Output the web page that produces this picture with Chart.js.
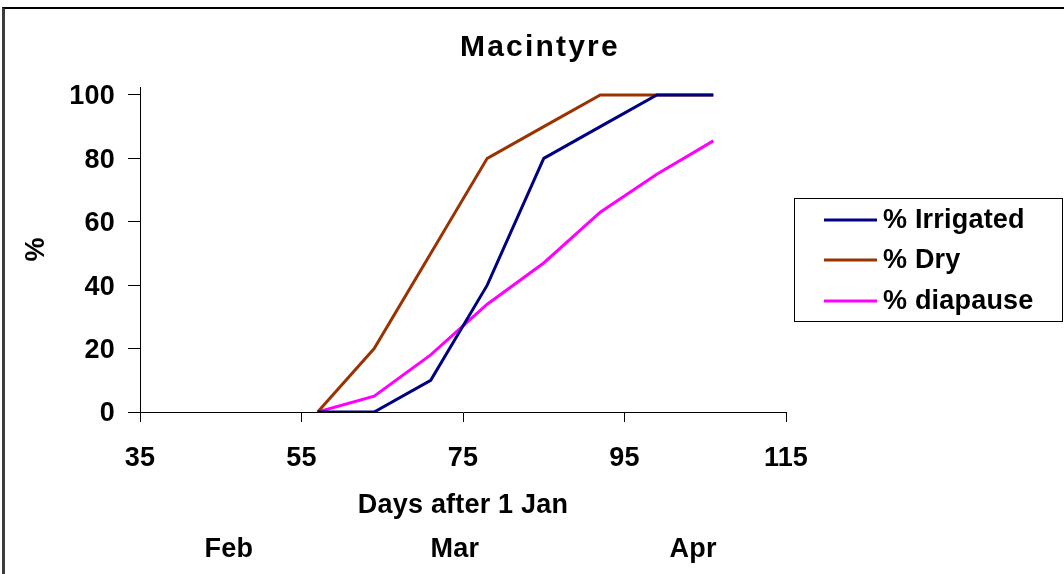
<!DOCTYPE html>
<html>
<head>
<meta charset="utf-8">
<script src="https://cdn.jsdelivr.net/npm/chart.js@4/dist/chart.umd.min.js"></script>
<style>
  html, body { margin: 0; padding: 0; background: #fff; overflow: hidden; }
  #wrap { position: relative; width: 1064px; height: 574px; }
  #frame { position: absolute; left: 2px; top: 7px; width: 2000px; height: 2000px;
           border-top: 2px solid #000; border-left: 3px solid #3c3c3c; pointer-events: none; }
  canvas { position: absolute; left: 0; top: 0; }
</style>
</head>
<body>
<div id="wrap">
  <canvas id="c" width="1064" height="574"></canvas>
  <div id="frame"></div>
</div>
<script>
const chartTitle = 'Macintyre';
const days = [57, 64, 71, 78, 85, 92, 99, 106];
const irrigated = [0, 0, 10, 40, 80, 90, 100, 100];
const dry = [0, 20, 50, 80, 90, 100, 100, 100];
const diapause = [0, 5, 18, 34, 47, 63, 75, 85.5];
const seriesNames = ['% Irrigated', '% Dry', '% diapause'];
const seriesColors = ['#000080', '#993300', '#FF00FF'];
const xTicks = [35, 55, 75, 95, 115];
const yTicks = [0, 20, 40, 60, 80, 100];
const monthLabels = ['Feb', 'Mar', 'Apr'];
const monthDays = [46, 74, 103.5];
const xTitle = 'Days after 1 Jan';
const yTitle = '%';

const FONT = '"Liberation Sans", Arial, sans-serif';
const bold27 = { family: FONT, size: 27, weight: 'bold' };

function pts(vals) { return days.map((d, i) => ({ x: d, y: vals[i] })); }

const titleAndLegend = {
  id: 'titleAndLegend',
  beforeDraw(chart) {
    chart.ctx.letterSpacing = '0.2px';
  },
  afterDraw(chart) {
    const ctx = chart.ctx;
    ctx.save();
    ctx.fillStyle = '#000';
    ctx.textBaseline = 'middle';
    // title
    ctx.font = 'bold 30px ' + FONT;
    ctx.letterSpacing = '2.2px';
    ctx.textAlign = 'left';
    ctx.fillText(chartTitle, 460, 48);
    // legend box
    ctx.font = 'bold 27px ' + FONT;
    ctx.letterSpacing = '0.2px';
    ctx.strokeStyle = '#000';
    ctx.lineWidth = 1;
    ctx.strokeRect(794.5, 198.5, 268, 123);
    const rows = [220, 260, 301];
    chart.data.datasets.forEach((ds, i) => {
      ctx.strokeStyle = ds.borderColor;
      ctx.lineWidth = 3;
      ctx.beginPath();
      ctx.moveTo(824, rows[i]);
      ctx.lineTo(877, rows[i]);
      ctx.stroke();
      ctx.fillStyle = '#000';
      ctx.fillText(ds.label, 883, rows[i] + 1);
    });
    ctx.restore();
  }
};

new Chart(document.getElementById('c'), {
  type: 'line',
  data: {
    datasets: [
      { label: seriesNames[0], data: pts(irrigated), borderColor: seriesColors[0] },
      { label: seriesNames[1], data: pts(dry), borderColor: seriesColors[1] },
      { label: seriesNames[2], data: pts(diapause), borderColor: seriesColors[2] }
    ]
  },
  options: {
    responsive: false,
    animation: false,
    events: [],
    datasets: { line: { borderWidth: 3, pointRadius: 0, tension: 0, fill: false } },
    layout: { padding: { left: 0, right: 278, top: 87, bottom: 0 } },
    plugins: { legend: { display: false }, title: { display: false }, tooltip: { enabled: false } },
    scales: {
      x: {
        type: 'linear', position: 'bottom', min: 35, max: 115, weight: 0,
        afterBuildTicks: s => { s.ticks = xTicks.map(v => ({ value: v })); },
        afterFit: s => { s.height = 110; },
        grid: { drawOnChartArea: false, drawTicks: true, tickLength: 10, color: '#000', lineWidth: 1 },
        border: { display: true, color: '#000', width: 1 },
        ticks: { font: bold27, color: '#000', padding: 20, maxRotation: 0, autoSkip: false },
        title: { display: true, text: xTitle, font: bold27, color: '#000', padding: { top: 0, bottom: 0 } }
      },
      months: {
        type: 'linear', position: 'bottom', min: 35, max: 115, weight: 1,
        afterBuildTicks: s => { s.ticks = monthDays.map(v => ({ value: v })); },
        afterFit: s => { s.height = 52; },
        grid: { display: false, drawTicks: false },
        border: { display: false },
        ticks: { font: bold27, color: '#000', padding: 11, maxRotation: 0, autoSkip: false,
                 callback: (v, i) => monthLabels[i] }
      },
      y: {
        position: 'left', min: 0, max: 102.5,
        afterBuildTicks: s => { s.ticks = yTicks.map(v => ({ value: v })); },
        afterFit: s => { s.width = 140; },
        grid: { drawOnChartArea: false, drawTicks: true, tickLength: 12, color: '#000', lineWidth: 1 },
        border: { display: true, color: '#000', width: 1 },
        ticks: { font: bold27, color: '#000', padding: 13, labelOffset: 2 },
        title: { display: true, text: yTitle, font: bold27, color: '#000', padding: { top: 20, bottom: 0 } }
      }
    }
  },
  plugins: [titleAndLegend]
});
</script>
</body>
</html>
